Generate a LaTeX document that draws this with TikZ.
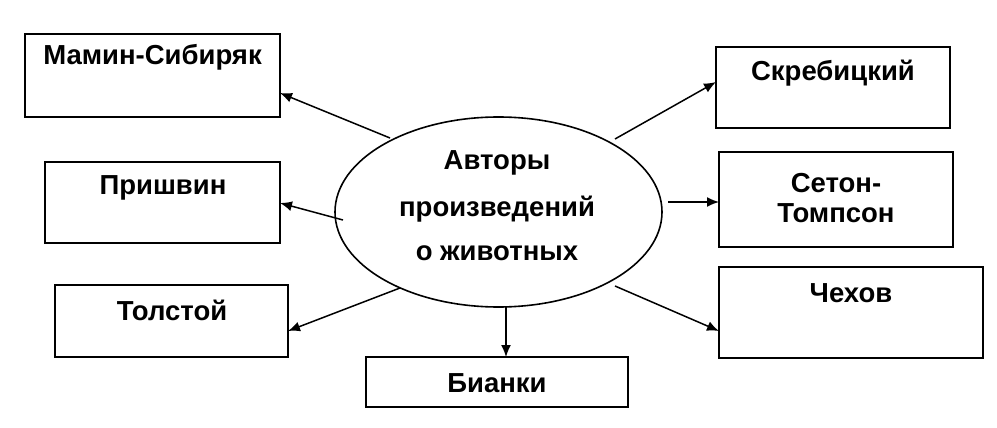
\documentclass[tikz,border=0pt]{standalone}
\usepackage{fontspec}
\setmainfont{Liberation Sans}
\usetikzlibrary{arrows.meta,shapes.geometric}
\begin{document}
\begin{tikzpicture}[x=1pt,y=-1pt,
  box/.style={draw, line width=2pt, minimum width=#1, inner sep=0pt},
  lbl/.style={font=\fontsize{27.5}{30}\selectfont\bfseries, align=center, inner sep=0pt},
  arr/.style={line width=1.5pt, -{Latex[length=12pt,width=10pt]}}]
\useasboundingbox (0,0) rectangle (997,428);
% ellipse
\node[draw, ellipse, line width=1.6pt, minimum width=327pt, minimum height=190pt, inner sep=0pt] (c) at (498.5,212) {};
\node[lbl] (ct1) at (497,163) {Авторы};
\node[lbl] (ct2) at (497,209) {произведений};
\node[lbl] (ct3) at (497,253) {о животных};
% boxes
\node[box=255pt, minimum height=83pt] (mamin) at (152.5,75.5) {};
\node[lbl] (t1) at (152.5,57) {Мамин-Сибиряк};
\node[box=235pt, minimum height=81pt] (prish) at (162.5,202.5) {};
\node[lbl] (t2) at (163,188) {Пришвин};
\node[box=233pt, minimum height=72pt] (tol) at (171.5,321) {};
\node[lbl] (t3) at (172,310) {Толстой};
\node[box=262pt, minimum height=50pt] (bian) at (497,382) {};
\node[lbl] (t4) at (497,383) {Бианки};
\node[box=234pt, minimum height=81pt] (skr) at (833,87.5) {};
\node[lbl] (t5) at (833,73) {Скребицкий};
\node[box=234pt, minimum height=95pt] (seton) at (836,199.5) {};
\node[lbl] (t6) at (836,198) {Сетон-\\Томпсон};
\node[box=264pt, minimum height=91pt] (chek) at (851,312.5) {};
\node[lbl] (t7) at (851,293) {Чехов};
% arrow points
\coordinate (s1) at (390,138); \coordinate (e1) at (280,93);
\coordinate (s2) at (343,220); \coordinate (e2) at (280,203);
\coordinate (s3) at (400,288); \coordinate (e3) at (288,331);
\coordinate (s4) at (506,307); \coordinate (e4) at (506,357);
\coordinate (s5) at (615,139); \coordinate (e5) at (716,82);
\coordinate (s6) at (668,202); \coordinate (e6) at (719,202);
\coordinate (s7) at (615,286); \coordinate (e7) at (719,331);
\foreach \i in {1,...,7} {\draw[arr] (s\i) -- (e\i);}
\end{tikzpicture}
\end{document}
